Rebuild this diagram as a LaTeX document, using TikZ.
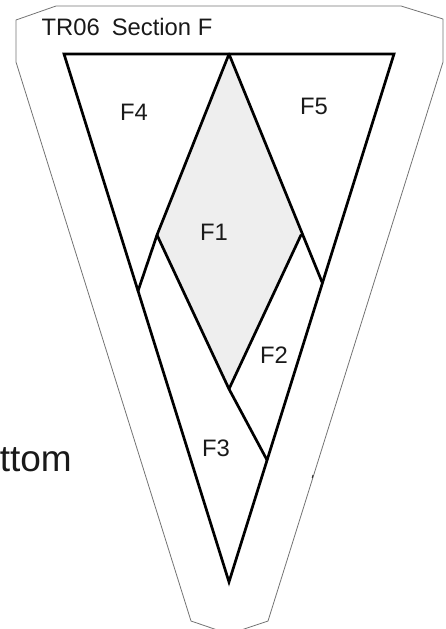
\documentclass[tikz,border=0pt]{standalone}
\usepackage{fontspec}
\setmainfont{Liberation Sans}
\tikzset{
  x=1pt,y=-1pt,
  outline/.style={draw=black!55,line width=0.8pt,line join=round},
  seam/.style={draw=black,line width=2.7pt,line join=miter,line cap=round},
  patch/.style={fill=black!6.5,draw=none},
  lab/.style={font=\fontsize{23.8}{26}\selectfont,text=black!90,inner sep=0pt},
}
\begin{document}
\begin{tikzpicture}
\useasboundingbox (0,0) rectangle (445,629);
\begin{scope}
\clip (0,0) rectangle (445,629);
\draw[outline] (16,20) -- (56,6) -- (401,6) -- (443,19) -- (443,62) -- (268,621) -- (229,634) -- (191,621) -- (16,62) -- cycle;
\end{scope}
\node[anchor=base east,inner sep=0pt,font=\fontsize{37}{41}\selectfont,text=black!90] (bottom) at (72,471.5) {ttom};
\draw[black!80,line width=1pt] (313,475) -- (312.2,478);
\coordinate (A) at (64,54); \coordinate (B) at (394,54); \coordinate (C) at (229,582);
\coordinate (T) at (229,54); \coordinate (R) at (301,235); \coordinate (L) at (157,235);
\coordinate (M) at (229,389); \coordinate (P) at (138,291); \coordinate (Q) at (322,282);
\coordinate (S) at (267,460);
\fill[patch] (T) -- (R) -- (M) -- (L) -- cycle;
\draw[seam] (A) -- (B) -- (C) -- cycle;
\draw[seam] (T) -- (Q);
\draw[seam] (T) -- (L) -- (P);
\draw[seam] (L) -- (M) -- (S);
\draw[seam] (R) -- (M);
\node[lab,anchor=base west] (title) at (41.5,35) {TR06\hspace{0.5em}Section F};
\node[lab] (f4) at (134,112) {F4};
\node[lab] (f5) at (314,106) {F5};
\node[lab] (f1) at (214,232) {F1};
\node[lab] (f2) at (274,355) {F2};
\node[lab] (f3) at (216,448) {F3};
\end{tikzpicture}
\end{document}
